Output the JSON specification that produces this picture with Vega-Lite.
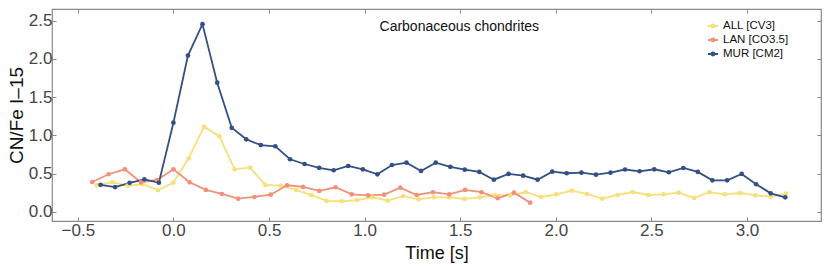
{
  "$schema": "https://vega.github.io/schema/vega-lite/v6.json",
  "width": 769,
  "height": 212,
  "autosize": {"type": "none"},
  "padding": {"left": 52, "top": 9, "right": 9, "bottom": 45},
  "background": "white",
  "config": {
    "font": "Liberation Sans",
    "view": {"stroke": "#8a8a8a", "strokeWidth": 1.2},
    "axis": {"grid": false, "domain": false, "tickColor": "#8a8a8a", "tickSize": -4, "tickWidth": 1,
      "labelFont": "Liberation Sans", "labelFontSize": 17, "labelColor": "#444444",
      "titleFont": "Liberation Sans", "titleFontWeight": "normal", "titleColor": "#111111"}
  },
  "datasets": {
    "series": [
      {"s": "ALL [CV3]", "t": -0.401, "v": 0.349},
      {"s": "ALL [CV3]", "t": -0.320, "v": 0.388},
      {"s": "ALL [CV3]", "t": -0.240, "v": 0.344},
      {"s": "ALL [CV3]", "t": -0.160, "v": 0.362},
      {"s": "ALL [CV3]", "t": -0.080, "v": 0.284},
      {"s": "ALL [CV3]", "t": 0.000, "v": 0.383},
      {"s": "ALL [CV3]", "t": 0.080, "v": 0.701},
      {"s": "ALL [CV3]", "t": 0.160, "v": 1.115},
      {"s": "ALL [CV3]", "t": 0.240, "v": 0.990},
      {"s": "ALL [CV3]", "t": 0.320, "v": 0.558},
      {"s": "ALL [CV3]", "t": 0.401, "v": 0.579},
      {"s": "ALL [CV3]", "t": 0.481, "v": 0.353},
      {"s": "ALL [CV3]", "t": 0.561, "v": 0.344},
      {"s": "ALL [CV3]", "t": 0.641, "v": 0.288},
      {"s": "ALL [CV3]", "t": 0.721, "v": 0.220},
      {"s": "ALL [CV3]", "t": 0.801, "v": 0.144},
      {"s": "ALL [CV3]", "t": 0.881, "v": 0.140},
      {"s": "ALL [CV3]", "t": 0.961, "v": 0.155},
      {"s": "ALL [CV3]", "t": 1.041, "v": 0.192},
      {"s": "ALL [CV3]", "t": 1.121, "v": 0.148},
      {"s": "ALL [CV3]", "t": 1.202, "v": 0.209},
      {"s": "ALL [CV3]", "t": 1.282, "v": 0.166},
      {"s": "ALL [CV3]", "t": 1.362, "v": 0.192},
      {"s": "ALL [CV3]", "t": 1.442, "v": 0.192},
      {"s": "ALL [CV3]", "t": 1.522, "v": 0.170},
      {"s": "ALL [CV3]", "t": 1.602, "v": 0.192},
      {"s": "ALL [CV3]", "t": 1.682, "v": 0.222},
      {"s": "ALL [CV3]", "t": 1.762, "v": 0.218},
      {"s": "ALL [CV3]", "t": 1.842, "v": 0.261},
      {"s": "ALL [CV3]", "t": 1.922, "v": 0.196},
      {"s": "ALL [CV3]", "t": 2.003, "v": 0.231},
      {"s": "ALL [CV3]", "t": 2.083, "v": 0.278},
      {"s": "ALL [CV3]", "t": 2.163, "v": 0.235},
      {"s": "ALL [CV3]", "t": 2.243, "v": 0.174},
      {"s": "ALL [CV3]", "t": 2.323, "v": 0.222},
      {"s": "ALL [CV3]", "t": 2.403, "v": 0.261},
      {"s": "ALL [CV3]", "t": 2.483, "v": 0.222},
      {"s": "ALL [CV3]", "t": 2.563, "v": 0.231},
      {"s": "ALL [CV3]", "t": 2.643, "v": 0.252},
      {"s": "ALL [CV3]", "t": 2.723, "v": 0.183},
      {"s": "ALL [CV3]", "t": 2.804, "v": 0.258},
      {"s": "ALL [CV3]", "t": 2.884, "v": 0.231},
      {"s": "ALL [CV3]", "t": 2.964, "v": 0.248},
      {"s": "ALL [CV3]", "t": 3.044, "v": 0.218},
      {"s": "ALL [CV3]", "t": 3.124, "v": 0.200},
      {"s": "ALL [CV3]", "t": 3.204, "v": 0.239},

      {"s": "LAN [CO3.5]", "t": -0.424, "v": 0.392},
      {"s": "LAN [CO3.5]", "t": -0.339, "v": 0.493},
      {"s": "LAN [CO3.5]", "t": -0.254, "v": 0.558},
      {"s": "LAN [CO3.5]", "t": -0.170, "v": 0.388},
      {"s": "LAN [CO3.5]", "t": -0.085, "v": 0.418},
      {"s": "LAN [CO3.5]", "t": 0.000, "v": 0.558},
      {"s": "LAN [CO3.5]", "t": 0.085, "v": 0.388},
      {"s": "LAN [CO3.5]", "t": 0.170, "v": 0.288},
      {"s": "LAN [CO3.5]", "t": 0.254, "v": 0.235},
      {"s": "LAN [CO3.5]", "t": 0.339, "v": 0.174},
      {"s": "LAN [CO3.5]", "t": 0.424, "v": 0.196},
      {"s": "LAN [CO3.5]", "t": 0.509, "v": 0.226},
      {"s": "LAN [CO3.5]", "t": 0.594, "v": 0.349},
      {"s": "LAN [CO3.5]", "t": 0.678, "v": 0.327},
      {"s": "LAN [CO3.5]", "t": 0.763, "v": 0.275},
      {"s": "LAN [CO3.5]", "t": 0.848, "v": 0.323},
      {"s": "LAN [CO3.5]", "t": 0.933, "v": 0.231},
      {"s": "LAN [CO3.5]", "t": 1.018, "v": 0.218},
      {"s": "LAN [CO3.5]", "t": 1.102, "v": 0.226},
      {"s": "LAN [CO3.5]", "t": 1.187, "v": 0.318},
      {"s": "LAN [CO3.5]", "t": 1.272, "v": 0.222},
      {"s": "LAN [CO3.5]", "t": 1.357, "v": 0.258},
      {"s": "LAN [CO3.5]", "t": 1.442, "v": 0.229},
      {"s": "LAN [CO3.5]", "t": 1.526, "v": 0.288},
      {"s": "LAN [CO3.5]", "t": 1.611, "v": 0.258},
      {"s": "LAN [CO3.5]", "t": 1.696, "v": 0.179},
      {"s": "LAN [CO3.5]", "t": 1.781, "v": 0.252},
      {"s": "LAN [CO3.5]", "t": 1.866, "v": 0.122},

      {"s": "MUR [CM2]", "t": -0.381, "v": 0.355},
      {"s": "MUR [CM2]", "t": -0.305, "v": 0.325},
      {"s": "MUR [CM2]", "t": -0.229, "v": 0.381},
      {"s": "MUR [CM2]", "t": -0.152, "v": 0.427},
      {"s": "MUR [CM2]", "t": -0.076, "v": 0.383},
      {"s": "MUR [CM2]", "t": 0.000, "v": 1.167},
      {"s": "MUR [CM2]", "t": 0.076, "v": 2.045},
      {"s": "MUR [CM2]", "t": 0.152, "v": 2.455},
      {"s": "MUR [CM2]", "t": 0.229, "v": 1.690},
      {"s": "MUR [CM2]", "t": 0.305, "v": 1.100},
      {"s": "MUR [CM2]", "t": 0.381, "v": 0.950},
      {"s": "MUR [CM2]", "t": 0.457, "v": 0.874},
      {"s": "MUR [CM2]", "t": 0.533, "v": 0.859},
      {"s": "MUR [CM2]", "t": 0.610, "v": 0.689},
      {"s": "MUR [CM2]", "t": 0.686, "v": 0.627},
      {"s": "MUR [CM2]", "t": 0.762, "v": 0.577},
      {"s": "MUR [CM2]", "t": 0.838, "v": 0.545},
      {"s": "MUR [CM2]", "t": 0.914, "v": 0.601},
      {"s": "MUR [CM2]", "t": 0.991, "v": 0.558},
      {"s": "MUR [CM2]", "t": 1.067, "v": 0.492},
      {"s": "MUR [CM2]", "t": 1.143, "v": 0.614},
      {"s": "MUR [CM2]", "t": 1.219, "v": 0.644},
      {"s": "MUR [CM2]", "t": 1.295, "v": 0.536},
      {"s": "MUR [CM2]", "t": 1.372, "v": 0.644},
      {"s": "MUR [CM2]", "t": 1.448, "v": 0.590},
      {"s": "MUR [CM2]", "t": 1.524, "v": 0.553},
      {"s": "MUR [CM2]", "t": 1.600, "v": 0.523},
      {"s": "MUR [CM2]", "t": 1.676, "v": 0.422},
      {"s": "MUR [CM2]", "t": 1.753, "v": 0.497},
      {"s": "MUR [CM2]", "t": 1.829, "v": 0.475},
      {"s": "MUR [CM2]", "t": 1.905, "v": 0.422},
      {"s": "MUR [CM2]", "t": 1.981, "v": 0.527},
      {"s": "MUR [CM2]", "t": 2.057, "v": 0.506},
      {"s": "MUR [CM2]", "t": 2.134, "v": 0.514},
      {"s": "MUR [CM2]", "t": 2.210, "v": 0.488},
      {"s": "MUR [CM2]", "t": 2.286, "v": 0.514},
      {"s": "MUR [CM2]", "t": 2.362, "v": 0.555},
      {"s": "MUR [CM2]", "t": 2.438, "v": 0.532},
      {"s": "MUR [CM2]", "t": 2.515, "v": 0.558},
      {"s": "MUR [CM2]", "t": 2.591, "v": 0.519},
      {"s": "MUR [CM2]", "t": 2.667, "v": 0.575},
      {"s": "MUR [CM2]", "t": 2.743, "v": 0.523},
      {"s": "MUR [CM2]", "t": 2.819, "v": 0.414},
      {"s": "MUR [CM2]", "t": 2.896, "v": 0.414},
      {"s": "MUR [CM2]", "t": 2.972, "v": 0.497},
      {"s": "MUR [CM2]", "t": 3.048, "v": 0.362},
      {"s": "MUR [CM2]", "t": 3.124, "v": 0.244},
      {"s": "MUR [CM2]", "t": 3.200, "v": 0.192}
    ],
    "label": [{"t": 1.078, "v": 2.418, "txt": "Carbonaceous chondrites"}]
  },
  "layer": [
    {
      "data": {"name": "series"},
      "mark": {"type": "line", "strokeWidth": 1.8, "point": {"filled": true, "size": 22, "opacity": 1}},
      "encoding": {
        "x": {"field": "t", "type": "quantitative", "scale": {"domain": [-0.635, 3.387], "nice": false, "zero": false},
          "axis": {"orient": "bottom", "values": [-0.5, 0, 0.5, 1, 1.5, 2, 2.5, 3], "format": ".1f", "title": "Time [s]", "titleFontSize": 18, "labelPadding": 5, "titlePadding": 6}},
        "y": {"field": "v", "type": "quantitative", "scale": {"domain": [-0.118, 2.653], "nice": false, "zero": false},
          "axis": {"orient": "left", "values": [0, 0.5, 1, 1.5, 2, 2.5], "format": ".1f", "title": "CN/Fe I–15", "titleFontSize": 19, "labelPadding": 4, "titlePadding": 2}},
        "color": {"field": "s", "type": "nominal",
          "scale": {"domain": ["ALL [CV3]", "LAN [CO3.5]", "MUR [CM2]"], "range": ["#f8df7c", "#f0917a", "#344f86"]},
          "legend": {"title": null, "orient": "none", "legendX": 655, "legendY": 11, "labelFontSize": 11.5, "labelColor": "#111111", "labelFont": "Liberation Sans",
            "symbolType": "M-1,0H1M0.28,0A0.28,0.28,0,1,1,-0.28,0A0.28,0.28,0,1,1,0.28,0", "symbolSize": 100, "symbolStrokeWidth": 2, "rowPadding": 2, "labelOffset": 4,
            "encode": {"symbols": {"update": {"fill": {"scale": "color", "field": "value"}, "stroke": {"scale": "color", "field": "value"}}}}}
        }
      }
    },
    {
      "data": {"name": "label"},
      "mark": {"type": "text", "align": "left", "baseline": "middle", "fontSize": 14, "font": "Liberation Sans", "color": "#111111"},
      "encoding": {
        "x": {"field": "t", "type": "quantitative", "axis": null},
        "y": {"field": "v", "type": "quantitative", "axis": null},
        "text": {"field": "txt"}
      }
    },
    {
      "data": {"name": "label"},
      "mark": {"type": "point", "opacity": 0},
      "encoding": {
        "x": {"field": "t", "type": "quantitative", "axis": {"orient": "top", "values": [-0.5, 0, 0.5, 1, 1.5, 2, 2.5, 3], "labels": false, "title": null}},
        "y": {"field": "v", "type": "quantitative", "axis": {"orient": "right", "values": [0, 0.5, 1, 1.5, 2, 2.5], "labels": false, "title": null}}
      }
    }
  ],
  "resolve": {"axis": {"x": "independent", "y": "independent"}}
}
